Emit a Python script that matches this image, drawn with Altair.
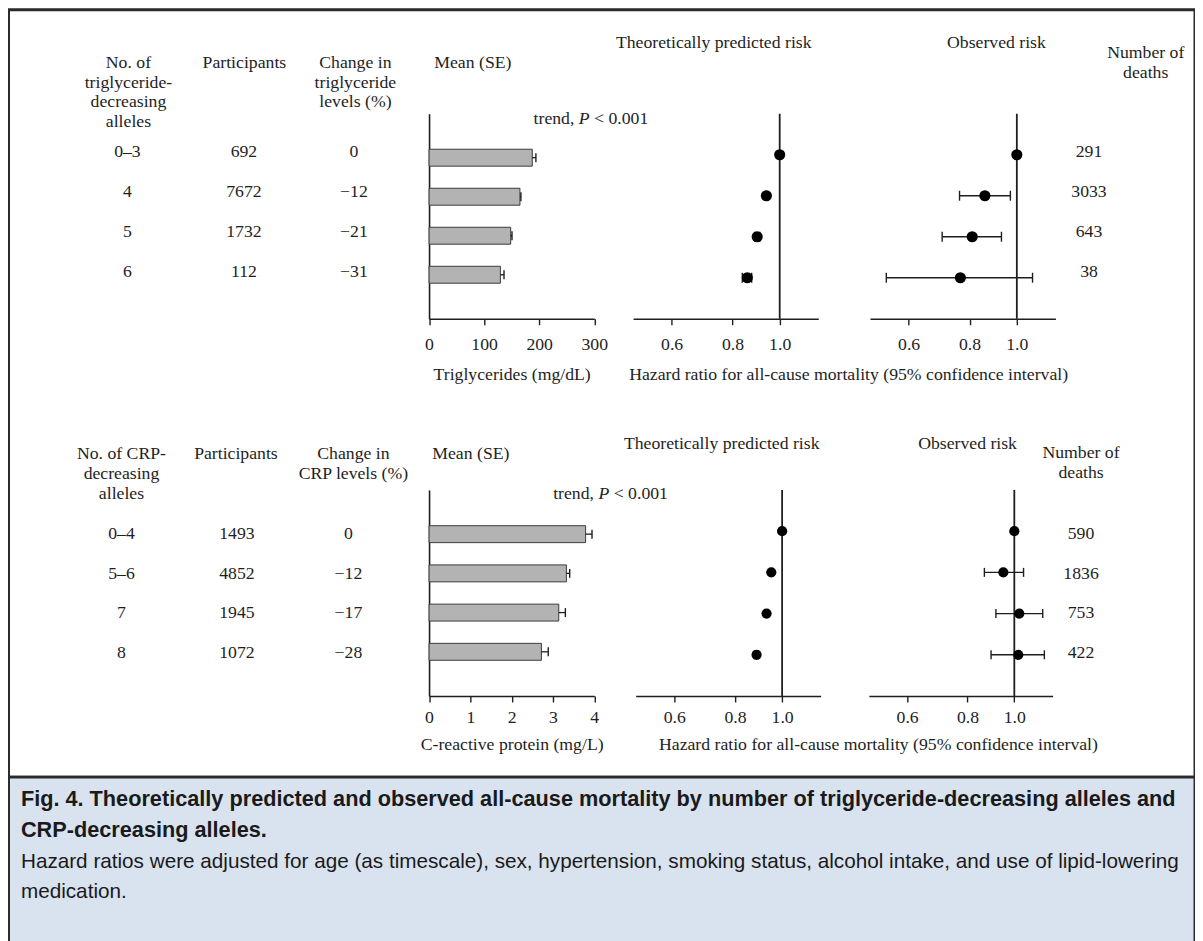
import altair as alt
import pandas as pd

# ---------------- values ----------------
tg_alleles = ["0–3", "4", "5", "6"]
tg_participants = ["692", "7672", "1732", "112"]
tg_change = ["0", "−12", "−21", "−31"]
tg_mean = [187.4, 165.0, 148.2, 129.5]
tg_se = [6.6, 1.8, 2.4, 6.6]
tg_pred = [1.000, 0.939, 0.899, 0.858]
tg_pred_lo = [1.000, 0.935, 0.889, 0.838]
tg_pred_hi = [1.000, 0.944, 0.910, 0.876]
tg_obs = [1.000, 0.860, 0.810, 0.766]
tg_obs_lo = [None, 0.763, 0.703, 0.540]
tg_obs_hi = [None, 0.970, 0.930, 1.077]
tg_deaths = ["291", "3033", "643", "38"]

crp_alleles = ["0–4", "5–6", "7", "8"]
crp_participants = ["1493", "4852", "1945", "1072"]
crp_change = ["0", "−12", "−17", "−28"]
crp_mean = [3.79, 3.325, 3.14, 2.72]
crp_se = [0.155, 0.08, 0.16, 0.165]
crp_pred = [1.000, 0.950, 0.929, 0.886]
crp_pred_lo = [1.000, 0.945, 0.922, 0.877]
crp_pred_hi = [1.000, 0.955, 0.936, 0.895]
crp_obs = [1.000, 0.949, 1.024, 1.019]
crp_obs_lo = [None, 0.867, 0.916, 0.895]
crp_obs_hi = [None, 1.045, 1.145, 1.154]
crp_deaths = ["590", "1836", "753", "422"]

bar_ticks_tg = [0, 100, 200, 300]
bar_ticks_crp = [0, 1, 2, 3, 4]
hr_ticks = [0.6, 0.8, 1.0]
HR_DOMAIN = [0.5, 1.2]

HR_TITLE = "Hazard ratio for all-cause mortality (95% confidence interval)"
CAP_TITLE_1 = "Fig. 4. Theoretically predicted and observed all-cause mortality by number of triglyceride-decreasing alleles and"
CAP_TITLE_2 = "CRP-decreasing alleles."
CAP_BODY_1 = "Hazard ratios were adjusted for age (as timescale), sex, hypertension, smoking status, alcohol intake, and use of lipid-lowering"
CAP_BODY_2 = "medication."

# ---------------- styles / layout ----------------
SERIF = "Liberation Serif"
CAPFONT = "Liberation Sans"
INK = "#1e1e1e"
FRAME = "#2b2b2b"
CAP_BG = "#d9e2ef"
BAR_FILL = "#b3b3b3"
FS = 17.8
FIG_W, FIG_H = 1192, 771
CAP_H = 172
Y_DOMAIN = [-1, 4]
BAR_RANGE = [422.5, 588.5]

rows = [
    dict(
        alleles=tg_alleles, participants=tg_participants, change=tg_change,
        mean=tg_mean, se=tg_se, pred=tg_pred, pred_lo=tg_pred_lo, pred_hi=tg_pred_hi,
        obs=tg_obs, obs_lo=tg_obs_lo, obs_hi=tg_obs_hi, deaths=tg_deaths,
        bar_domain=[0, 300], bar_ticks=bar_ticks_tg, bar_title="Triglycerides (mg/dL)",
        plot_range=[104.5, 310.5], text_range=[143.5, 263.5],
        col_x=[119.5, 236.5, 347.0], deaths_x=1085.5,
        pred_range=[627.5, 813.5], obs_range=[865.5, 1051.8],
        axis_offset=310.5 - FIG_H, label_pad=20, title_y=56, hr_title_x=843.5,
        trend_x=[527.5, 573.0, 588.3], trend_y=109.5,
        point_size=125, cap=10,
        headers=[
            ("No. of\ntriglyceride-\ndecreasing\nalleles", 120.5, 53.2),
            ("Participants", 237.0, 53.2),
            ("Change in\ntriglyceride\nlevels (%)", 348.5, 53.2),
            ("Mean (SE)", 466.5, 53.2),
            ("Theoretically predicted risk", 708.5, 33.2),
            ("Observed risk", 992.5, 33.2),
            ("Number of\ndeaths", 1142.5, 43.2),
        ],
    ),
    dict(
        alleles=crp_alleles, participants=crp_participants, change=crp_change,
        mean=crp_mean, se=crp_se, pred=crp_pred, pred_lo=crp_pred_lo, pred_hi=crp_pred_hi,
        obs=crp_obs, obs_lo=crp_obs_lo, obs_hi=crp_obs_hi, deaths=crp_deaths,
        bar_domain=[0, 4], bar_ticks=bar_ticks_crp, bar_title="C-reactive protein (mg/L)",
        plot_range=[482.5, 689.5], text_range=[526.5, 646.5],
        col_x=[113.5, 229.5, 341.5], deaths_x=1077.5,
        pred_range=[630.1, 815.9], obs_range=[864.4, 1048.9],
        axis_offset=689.5 - FIG_H, label_pad=16, title_y=49, hr_title_x=873.5,
        trend_x=[547.2, 592.7, 608.0], trend_y=486.5,
        point_size=105, cap=9,
        headers=[
            ("No. of CRP-\ndecreasing\nalleles", 113.5, 446.5),
            ("Participants", 228.5, 446.5),
            ("Change in\nCRP levels (%)", 346.5, 446.5),
            ("Mean (SE)", 464.5, 446.5),
            ("Theoretically predicted risk", 716.5, 436.5),
            ("Observed risk", 963.5, 436.5),
            ("Number of\ndeaths", 1077.5, 445.0),
        ],
    ),
]


def x_axis(values, fmt, offset, label_pad, title=None, title_y=None, title_x=None):
    kw = dict(orient="bottom", offset=offset, values=values, format=fmt, grid=False,
              domainColor=INK, domainWidth=1.6, tickColor=INK, tickWidth=1.4, tickSize=6,
              labelFont=SERIF, labelFontSize=FS, labelColor=INK, labelPadding=label_pad,
              labelBaseline="middle", labelFlush=False, labelOverlap=False, labelAngle=0)
    if title is None:
        kw["title"] = None
    else:
        kw.update(title=title, titleFont=SERIF, titleFontSize=FS, titleFontWeight="normal",
                  titleColor=INK, titleY=title_y, titleBaseline="middle", titleAlign="center",
                  titleAngle=0)
        if title_x is not None:
            kw["titleX"] = title_x
    return alt.Axis(**kw)


def text_layer(text, x, y, **style):
    base = dict(font=SERIF, fontSize=FS, color=INK, align="center", baseline="middle",
                lineBreak="\n", lineHeight=20)
    base.update(style)
    return alt.Chart(pd.DataFrame({"t": [text]})).mark_text(**base).encode(
        text="t:N", x=alt.value(x), y=alt.value(y))


def build_row(R):
    layers = []
    n = len(R["alleles"])
    idx = list(range(n))

    # column headers
    for txt, hx, hy in R["headers"]:
        layers.append(text_layer(txt, hx, hy))

    # table text columns and deaths column
    ys_text = alt.Scale(domain=[0, n - 1], range=R["text_range"], nice=False, zero=False)
    tdf = pd.DataFrame({"r": idx, "alleles": R["alleles"], "participants": R["participants"],
                        "change": R["change"], "deaths": R["deaths"]})
    for field, cx in zip(["alleles", "participants", "change", "deaths"],
                         R["col_x"] + [R["deaths_x"]]):
        layers.append(
            alt.Chart(tdf).mark_text(font=SERIF, fontSize=FS, color=INK, align="center",
                                     baseline="middle").encode(
                text=f"{field}:N", x=alt.value(cx),
                y=alt.Y("r:Q", scale=ys_text, axis=None))
        )

    # trend annotation
    tx = R["trend_x"]
    layers.append(text_layer("trend,", tx[0], R["trend_y"], align="left"))
    layers.append(text_layer("P", tx[1], R["trend_y"], align="left", fontStyle="italic"))
    layers.append(text_layer("< 0.001", tx[2], R["trend_y"], align="left"))

    ys = alt.Scale(domain=Y_DOMAIN, range=R["plot_range"], nice=False, zero=False)

    # ---- bar panel (mean, SE)
    xs_bar = alt.Scale(domain=R["bar_domain"], range=BAR_RANGE, nice=False, zero=False)
    bdf = pd.DataFrame({"r": idx, "mean": R["mean"],
                        "hi": [m + s for m, s in zip(R["mean"], R["se"])]})
    bar_axis = x_axis(R["bar_ticks"], "d", R["axis_offset"], R["label_pad"],
                      title=R["bar_title"], title_y=R["title_y"])
    y_axis = alt.Axis(orient="left", offset=-BAR_RANGE[0], domain=True, ticks=False,
                      labels=False, grid=False, title=None, domainColor=INK, domainWidth=1.6)
    bars = alt.Chart(bdf).mark_bar(orient="horizontal", size=17, color=BAR_FILL,
                                   stroke="#3a3a3a", strokeWidth=1).encode(
        x=alt.X("mean:Q", scale=xs_bar, axis=bar_axis),
        x2=alt.X2(datum=0),
        y=alt.Y("r:Q", scale=ys, axis=y_axis),
    )
    se_line = alt.Chart(bdf).mark_rule(color=INK, strokeWidth=1.3).encode(
        x=alt.X("mean:Q", scale=xs_bar, axis=bar_axis), x2="hi:Q",
        y=alt.Y("r:Q", scale=ys, axis=y_axis))
    se_cap = alt.Chart(bdf).mark_tick(orient="vertical", size=9, thickness=1.4,
                                      color=INK, opacity=1).encode(
        x=alt.X("hi:Q", scale=xs_bar, axis=bar_axis),
        y=alt.Y("r:Q", scale=ys, axis=y_axis))
    layers.append(alt.layer(bars, se_line, se_cap))

    # ---- forest panels (predicted / observed)
    for key, rng, with_title in [("pred", R["pred_range"], True), ("obs", R["obs_range"], False)]:
        xs = alt.Scale(type="log", domain=HR_DOMAIN, range=rng, nice=False, zero=False)
        if with_title:
            ax = x_axis(hr_ticks, ".1f", R["axis_offset"], R["label_pad"], title=HR_TITLE,
                        title_y=R["title_y"], title_x=R["hr_title_x"])
        else:
            ax = x_axis(hr_ticks, ".1f", R["axis_offset"], R["label_pad"])
        fdf = pd.DataFrame({"r": idx, "est": R[key], "lo": R[key + "_lo"], "hi": R[key + "_hi"]})
        cidf = fdf.dropna().copy()
        cidf = cidf[cidf["hi"] > cidf["lo"]]
        ref = alt.Chart(pd.DataFrame({"hr": [1.0]})).mark_rule(color=INK, strokeWidth=1.8).encode(
            x=alt.X("hr:Q", scale=xs, axis=ax),
            y=alt.Y(datum=Y_DOMAIN[0], type="quantitative", scale=ys, axis=None),
            y2=alt.Y2(datum=Y_DOMAIN[1]),
        )
        ci = alt.Chart(cidf).mark_rule(color=INK, strokeWidth=1.4).encode(
            x=alt.X("lo:Q", scale=xs, axis=ax), x2="hi:Q",
            y=alt.Y("r:Q", scale=ys, axis=None))
        cap_lo = alt.Chart(cidf).mark_tick(orient="vertical", size=R["cap"], thickness=1.4,
                                           color=INK, opacity=1).encode(
            x=alt.X("lo:Q", scale=xs, axis=ax), y=alt.Y("r:Q", scale=ys, axis=None))
        cap_hi = alt.Chart(cidf).mark_tick(orient="vertical", size=R["cap"], thickness=1.4,
                                           color=INK, opacity=1).encode(
            x=alt.X("hi:Q", scale=xs, axis=ax), y=alt.Y("r:Q", scale=ys, axis=None))
        pts = alt.Chart(fdf).mark_circle(size=R["point_size"], color="#000000", opacity=1).encode(
            x=alt.X("est:Q", scale=xs, axis=ax), y=alt.Y("r:Q", scale=ys, axis=None))
        layers.append(alt.layer(ref, ci, cap_lo, cap_hi, pts))
    return layers


fig_layers = []
for R in rows:
    fig_layers.extend(build_row(R))

figure = alt.layer(*fig_layers).resolve_scale(
    x="independent", y="independent").resolve_axis(
    x="independent", y="independent").properties(
    width=FIG_W, height=FIG_H,
    view=alt.ViewBackground(fill="white", stroke=FRAME, strokeWidth=3))

cap_lines = [
    (CAP_TITLE_1, 22.5, "bold", 21.8),
    (CAP_TITLE_2, 53.5, "bold", 21.8),
    (CAP_BODY_1, 85.5, "normal", 20.8),
    (CAP_BODY_2, 115.5, "normal", 20.8),
]
cap_layers = [
    alt.Chart(pd.DataFrame({"t": [txt]})).mark_text(
        font=CAPFONT, fontSize=fs, fontWeight=fw, color="#1a1a1a",
        align="left", baseline="middle").encode(
        text="t:N", x=alt.value(12.5), y=alt.value(yy))
    for txt, yy, fw, fs in cap_lines
]
caption = alt.layer(*cap_layers).properties(
    width=FIG_W, height=CAP_H,
    view=alt.ViewBackground(fill=CAP_BG, stroke=FRAME, strokeWidth=3))

chart = alt.vconcat(figure, caption, spacing=0, bounds="flush").properties(
    padding={"left": -1.5, "top": -2.5, "right": -2, "bottom": 0})

chart.save("out.html", embed_options={"renderer": "svg", "actions": False})
